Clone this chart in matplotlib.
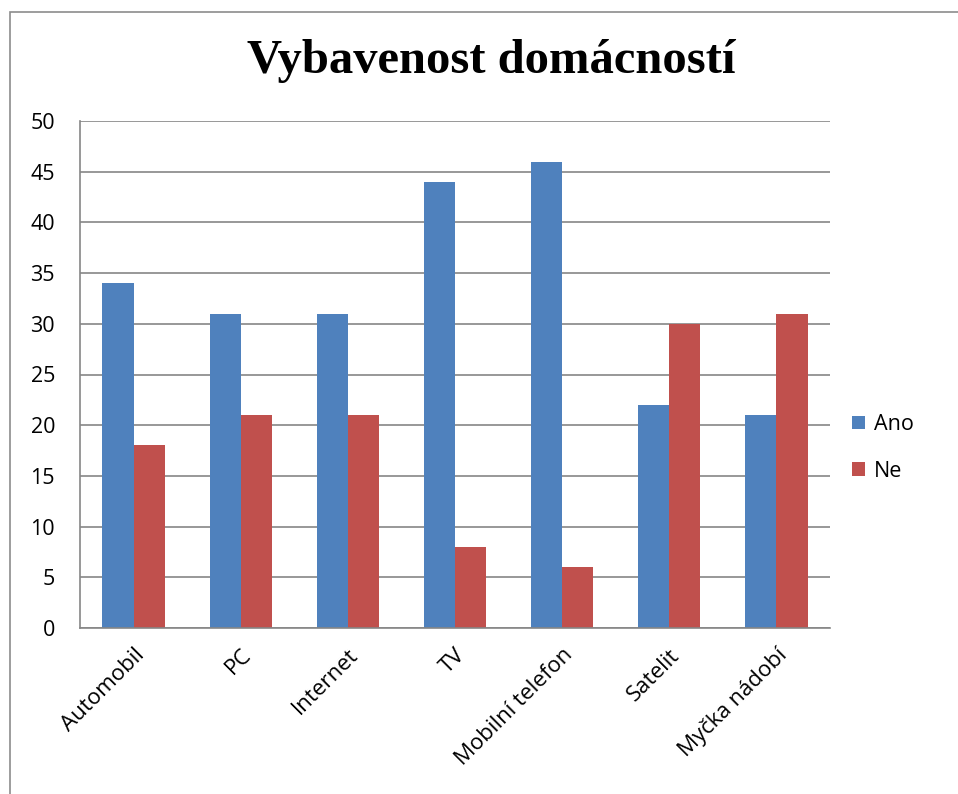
import matplotlib.pyplot as plt
import numpy as np
from matplotlib.patches import Rectangle

categories = ['Automobil', 'PC', 'Internet', 'TV', 'Mobilní telefon', 'Satelit', 'Myčka nádobí']
ano = [34, 31, 31, 44, 46, 22, 21]
ne = [18, 21, 21, 8, 6, 30, 31]

plt.rcParams['font.family'] = ['Open Sans', 'DejaVu Sans']

fig = plt.figure(figsize=(9.58, 7.94), dpi=100)
ax = fig.add_axes([80 / 958, 1 - 628 / 794, 750 / 958, 507 / 794])

# outer chart border (only left and top edges are visible in the crop)
fig.patches.append(Rectangle((10 / 958, -0.1), 1.2, 1 - 12 / 794 + 0.1,
                             transform=fig.transFigure, fill=False,
                             edgecolor='#8c8c8c', linewidth=1.2))

x = np.arange(len(categories))
w = 0.29
ax.bar(x - w / 2, ano, w, color='#4F81BD', label='Ano')
ax.bar(x + w / 2, ne, w, color='#C0504D', label='Ne')

ax.set_xlim(-0.5, len(categories) - 0.5)
ax.set_ylim(0, 50)
ax.set_yticks(range(0, 51, 5))
ax.yaxis.grid(True, color='#868686', linewidth=1.2)
ax.set_axisbelow(True)
for s in ['top', 'right']:
    ax.spines[s].set_visible(False)
for s in ['left', 'bottom']:
    ax.spines[s].set_color('#868686')
    ax.spines[s].set_linewidth(1.2)

ax.set_xticks(x)
ax.set_xticklabels(categories, rotation=45, ha='right', rotation_mode='anchor')
ax.tick_params(axis='x', length=0, pad=12, labelsize=16)
ax.tick_params(axis='y', length=0, pad=18, labelsize=15.5)

fig.text(491 / 958, 1 - 61 / 794, 'Vybavenost domácností', ha='center', va='center',
         family='Liberation Serif', fontweight='bold', fontsize=35)

fig.legend(loc='center left', bbox_to_anchor=(833 / 958, 1 - 448 / 794), frameon=False,
           fontsize=15.5, handlelength=0.6, handleheight=0.6, handletextpad=0.4,
           labelspacing=1.2)

fig.savefig('out.png', dpi=100)
